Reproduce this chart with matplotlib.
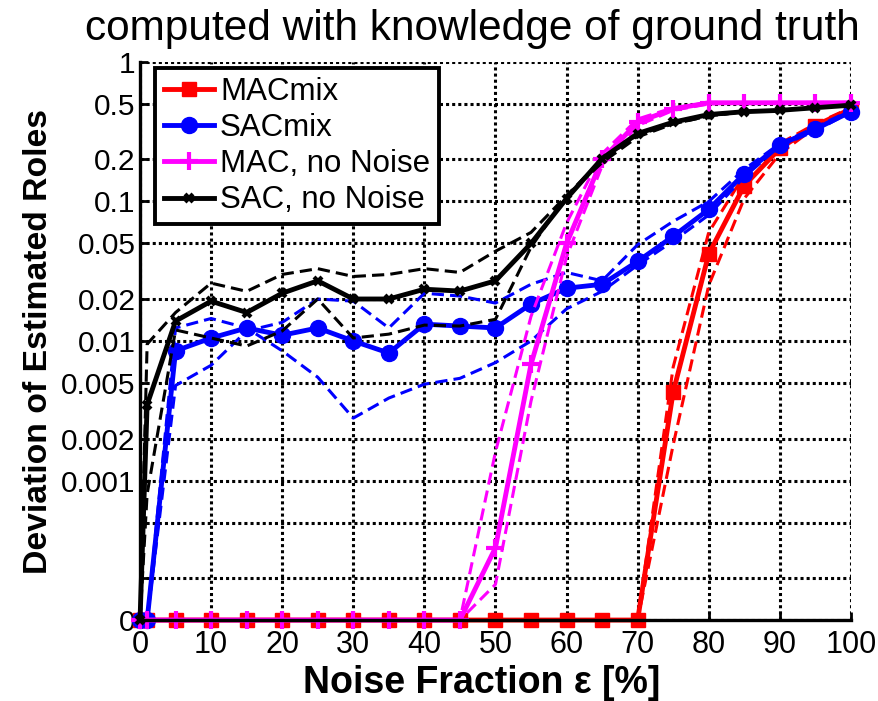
import numpy as np
import matplotlib
matplotlib.use('Agg')
import matplotlib.pyplot as plt

plt.rcParams['font.family'] = ['Liberation Sans', 'DejaVu Sans']

# noise fraction in percent
x = [0, 1, 5, 10, 15, 20, 25, 30, 35, 40, 45, 50, 55, 60, 65, 70, 75, 80, 85, 90, 95, 100]

mac_mix = [0] * 16 + [0.0043, 0.042, 0.13, 0.24, 0.35, 0.46]
mac_mix_a = [0] * 16 + [0.0065, 0.06, 0.155, 0.26, 0.36, 0.47]
mac_mix_b = [0] * 16 + [0.0018, 0.025, 0.105, 0.22, 0.34, 0.46]

sac_mix = [0, 0, 0.0085, 0.0105, 0.0124, 0.011, 0.0124, 0.010, 0.0082, 0.0132, 0.0128,
           0.0124, 0.0184, 0.0239, 0.0255, 0.0372, 0.0563, 0.0877, 0.158, 0.255, 0.33, 0.44]
sac_mix_a = [0, 0, 0.0048, 0.0067, 0.0118, 0.0136, 0.020, 0.0193, 0.0124, 0.022, 0.021,
             0.0187, 0.0255, 0.031, 0.027, 0.049, 0.072, 0.10, 0.17, 0.26, 0.34, 0.45]
sac_mix_b = [0, 0, 0.0124, 0.0145, 0.0124, 0.0085, 0.0055, 0.0028, 0.0039, 0.0049, 0.0054,
             0.0070, 0.010, 0.017, 0.0227, 0.035, 0.052, 0.08, 0.15, 0.25, 0.32, 0.44]

mac = [0] * 11 + [0.00033, 0.0068, 0.05, 0.2, 0.37, 0.46, 0.51, 0.51, 0.51, 0.51, 0.51]
mac_a = [0] * 11 + [0.0016, 0.015, 0.07, 0.22, 0.39, 0.47, 0.51, 0.51, 0.51, 0.51, 0.51]
mac_b = [0] * 11 + [0.00018, 0.0037, 0.04, 0.18, 0.35, 0.45, 0.50, 0.51, 0.51, 0.51, 0.51]

sac = [0, 0.0035, 0.0139, 0.0193, 0.016, 0.022, 0.027, 0.020, 0.020, 0.0235, 0.0228,
       0.027, 0.050, 0.105, 0.203, 0.307, 0.37, 0.42, 0.44, 0.45, 0.47, 0.49]
sac_a = [0, 0.0095, 0.016, 0.026, 0.0227, 0.030, 0.033, 0.029, 0.030, 0.033, 0.031,
         0.044, 0.060, 0.11, 0.19, 0.29, 0.36, 0.41, 0.44, 0.45, 0.47, 0.49]
sac_b = [0, 0.0008, 0.012, 0.0105, 0.0092, 0.0118, 0.020, 0.0105, 0.0112, 0.013, 0.0128,
         0.0143, 0.047, 0.11, 0.20, 0.30, 0.36, 0.41, 0.44, 0.45, 0.47, 0.49]

yticks = [0, 0.0002, 0.0005, 0.001, 0.002, 0.005, 0.01, 0.02, 0.05, 0.1, 0.2, 0.5, 1]
yticklabels = ['0', '', '', '0.001', '0.002', '0.005', '0.01', '0.02', '0.05',
               '0.1', '0.2', '0.5', '1']
xticks = list(range(0, 101, 10))


# log axis where zero sits one decade below 0.001
def fwd(v):
    return np.log10(np.clip(np.asarray(v, dtype=float), 1e-4, None))


def inv(v):
    return 10.0 ** np.asarray(v, dtype=float)


series = [
    ('MACmix', 'red', 's', 10, 1, mac_mix, mac_mix_a, mac_mix_b),
    ('SACmix', 'blue', 'o', 11.5, 1, sac_mix, sac_mix_a, sac_mix_b),
    ('MAC, no Noise', 'magenta', '+', 13, 3, mac, mac_a, mac_b),
    ('SAC, no Noise', 'black', 'x', 6, 3, sac, sac_a, sac_b),
]

fig = plt.figure(figsize=(8.79, 7.01), dpi=100)
ax = fig.add_axes([0.1593, 0.1155, 0.968 - 0.1593, 0.9116 - 0.1155])
ax.set_yscale('function', functions=(fwd, inv))

for (name, color, marker, ms, mew, mid, a, b) in series:
    for band in (a, b):
        ax.plot(x, band, color=color, lw=2.2, ls=(0, (4, 2)), clip_on=False)
    ax.plot(x, mid, color=color, lw=3.5, marker=marker, ms=ms, mew=mew,
            label=name, clip_on=False)

ax.set_xlim(0, 100)
ax.set_ylim(0, 1)
ax.set_xticks(xticks)
ax.set_yticks(yticks)
ax.set_yticklabels(yticklabels)
ax.tick_params(axis='x', labelsize=22, direction='in', length=6, width=2, pad=7)
ax.tick_params(axis='y', labelsize=21.5, direction='in', length=6, width=2, pad=3)
ax.minorticks_off()
ax.grid(True, color='black', ls=(0, (1, 1)), lw=2.2)
ax.set_axisbelow(True)
for side in ('top', 'right'):
    ax.spines[side].set_visible(False)
for side in ('left', 'bottom'):
    ax.spines[side].set_linewidth(2.4)

ax.set_xlabel('Noise Fraction \u03b5 [%]', fontsize=27, fontweight='bold',
              labelpad=4, x=0.481)
ax.set_ylabel('Deviation of Estimated Roles', fontsize=24.3, fontweight='bold', labelpad=5)
ax.set_title('computed with knowledge of ground truth', fontsize=30.5, pad=16, x=0.468)

leg = ax.legend(loc='upper left', bbox_to_anchor=(15 / 711, 1 - 6 / 558),
                borderaxespad=0, fontsize=22.5, handlelength=1.6, handletextpad=0.2,
                borderpad=0.28, labelspacing=0.2, fancybox=False, framealpha=1,
                edgecolor='black')
leg.get_frame().set_linewidth(2.8)

fig.savefig('out.png', dpi=100)
